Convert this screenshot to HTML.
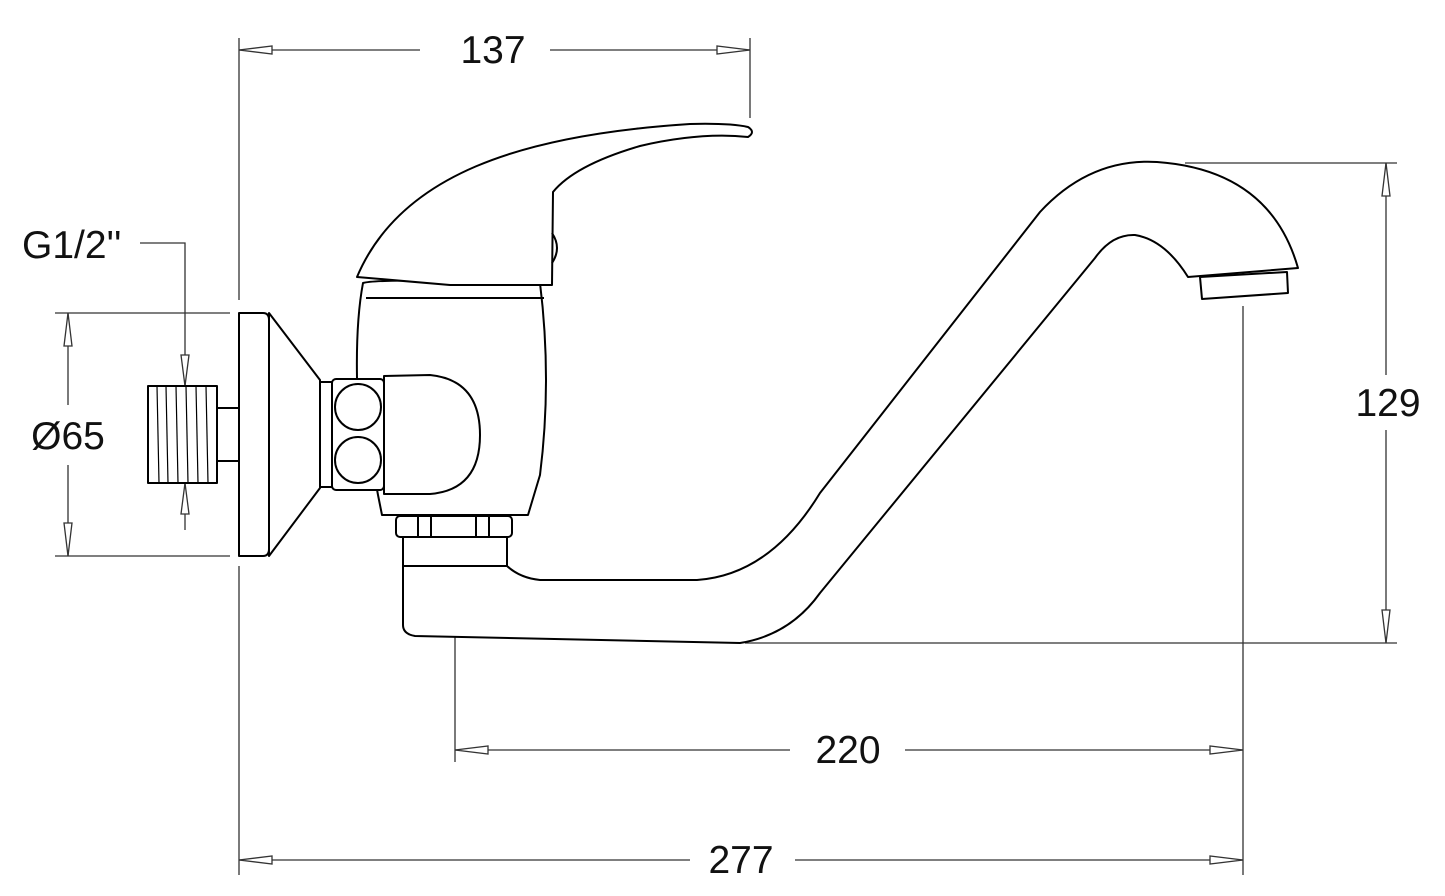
<!DOCTYPE html>
<html><head><meta charset="utf-8"><style>
html,body{margin:0;padding:0;background:#fff}
svg{display:block}
text{font-family:"Liberation Sans",sans-serif;font-size:39px;fill:#111}
</style></head><body>
<svg width="1445" height="896" viewBox="0 0 1445 896" xmlns="http://www.w3.org/2000/svg">
<g stroke="#333" stroke-width="1.3" fill="none">
<line x1="239" y1="38" x2="239" y2="300"/>
<line x1="239" y1="566" x2="239" y2="875"/>
<line x1="750" y1="38" x2="750" y2="118"/>
<line x1="239" y1="50" x2="420" y2="50"/><line x1="550" y1="50" x2="750" y2="50"/>
<polygon points="239,50 272,46 272,54" fill="#fff"/>
<polygon points="750,50 717,46 717,54" fill="#fff"/>
<polyline points="140,243 185,243 185,386"/>
<polygon points="185,386 181,355 189,355" fill="#fff"/>
<line x1="185" y1="483" x2="185" y2="530"/>
<polygon points="185,483 181,514 189,514" fill="#fff"/>
<line x1="55" y1="313" x2="230" y2="313"/>
<line x1="55" y1="556" x2="230" y2="556"/>
<line x1="68" y1="313" x2="68" y2="405"/><line x1="68" y1="465" x2="68" y2="556"/>
<polygon points="68,313 64,346 72,346" fill="#fff"/>
<polygon points="68,556 64,523 72,523" fill="#fff"/>
<line x1="1185" y1="163" x2="1397" y2="163"/>
<line x1="745" y1="643" x2="1397" y2="643"/>
<line x1="1386" y1="163" x2="1386" y2="375"/><line x1="1386" y1="430" x2="1386" y2="643"/>
<polygon points="1386,163 1382,196 1390,196" fill="#fff"/>
<polygon points="1386,643 1382,610 1390,610" fill="#fff"/>
<line x1="455" y1="548" x2="455" y2="762"/>
<line x1="1243" y1="306" x2="1243" y2="875"/>
<line x1="455" y1="750" x2="790" y2="750"/><line x1="905" y1="750" x2="1243" y2="750"/>
<polygon points="455,750 488,746 488,754" fill="#fff"/>
<polygon points="1243,750 1210,746 1210,754" fill="#fff"/>
<line x1="239" y1="860" x2="690" y2="860"/><line x1="795" y1="860" x2="1243" y2="860"/>
<polygon points="239,860 272,856 272,864" fill="#fff"/>
<polygon points="1243,860 1210,856 1210,864" fill="#fff"/>
</g>
<text x="493" y="63" text-anchor="middle">137</text>
<text x="22" y="258">G1/2''</text>
<text x="68" y="449" text-anchor="middle">Ø65</text>
<text x="1388" y="416" text-anchor="middle">129</text>
<text x="848" y="763" text-anchor="middle">220</text>
<text x="741" y="873" text-anchor="middle">277</text>

<g stroke="#000" stroke-width="2" fill="#fff" stroke-linejoin="round">
<path d="M507,566 Q520,578 540,580 L697,580 Q770,575 820,493 L1040,212 Q1090,158 1157,162 Q1270,170 1298,268 L1188,277 Q1165,240 1135,235 Q1112,234 1095,258 L820,593 Q790,635 740,643 L415,636 Q403,634 403,625 L403,566 Z"/>
<polygon points="1200,277 1287,272 1288,293 1202,299"/>
<rect x="403" y="537" width="104" height="29"/>
<rect x="396" y="516" width="116" height="21" rx="4"/>
<rect x="418" y="516" width="13" height="21"/>
<rect x="476" y="516" width="13" height="21"/>
<path d="M363,283 Q380,278 540,283 Q552,380 540,475 L528,515 L382,515 L378,495 L357,378 Q356,320 363,283 Z"/>
<line x1="366" y1="298" x2="544" y2="298"/>
<path d="M357,277 C400,175 520,135 690,124 Q730,123 748,127 Q756,132 748,137 Q700,132 640,146 Q575,165 553,192 L552,285 L450,285 Z"/>
<path d="M552,233 Q562,248 552,263" fill="none"/>
<path d="M269,313 L320,380 L320,488 L269,556 Z"/>
<path d="M239,313 L263,313 Q269,313 269,320 L269,549 Q269,556 263,556 L239,556 Z"/>
<rect x="320" y="382" width="12" height="105"/>
<rect x="332" y="379" width="52" height="111" rx="4"/>
<circle cx="358" cy="407" r="23"/>
<circle cx="358" cy="460" r="23"/>
<path d="M384,376 L430,375 Q480,380 480,435 Q480,490 430,494 L384,494 Z"/>
<rect x="217" y="408" width="22" height="53"/>
<rect x="148" y="386" width="69" height="97"/>
</g>
<g stroke="#000" stroke-width="1.2">
<line x1="157" y1="386" x2="159" y2="483"/><line x1="166" y1="386" x2="168" y2="483"/>
<line x1="176" y1="386" x2="178" y2="483"/><line x1="186" y1="386" x2="188" y2="483"/>
<line x1="196" y1="386" x2="198" y2="483"/><line x1="206" y1="386" x2="208" y2="483"/>
</g>
</svg>
</body></html>
